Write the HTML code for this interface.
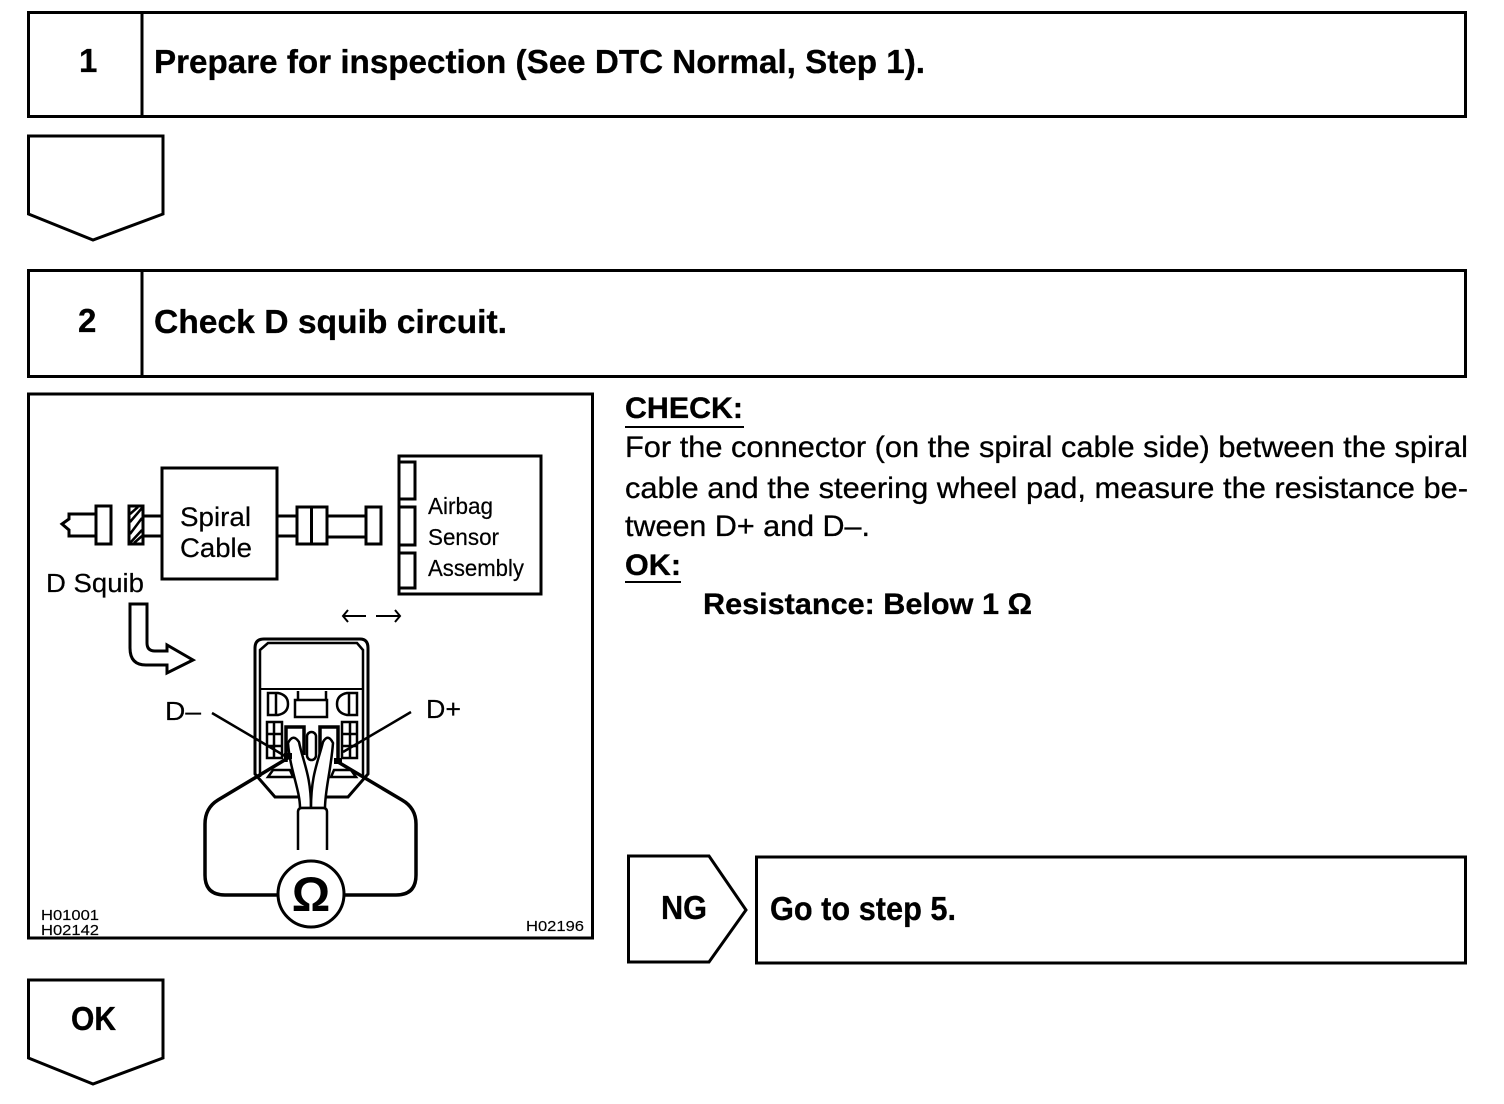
<!DOCTYPE html>
<html><head><meta charset="utf-8"><style>
html,body{margin:0;padding:0;background:#fff}
svg{display:block}
text{font-family:"Liberation Sans",sans-serif;fill:#000}
.b{font-weight:bold;font-size:33px;stroke:#000;stroke-width:.3px}
.t{font-size:29.5px;stroke:#000;stroke-width:.3px}
.d{font-size:27px;stroke:#000;stroke-width:.2px}
.a{font-size:23px;stroke:#000;stroke-width:.2px}
.s{font-size:15px;stroke:#000;stroke-width:.15px}
</style></head><body>
<svg width="1504" height="1104" viewBox="0 0 1504 1104" xmlns="http://www.w3.org/2000/svg">
<g fill="none" stroke="#000" stroke-width="3">
<rect x="28.500" y="12.500" width="1437" height="104"/>
<path d="M142 12V116"/>
<rect x="28.500" y="270.500" width="1437" height="106"/>
<path d="M142 270V376"/>
<path d="M28.500 136H163V214L93 240L28.500 214Z"/>
<rect x="28.500" y="394" width="564" height="544"/>
<path d="M628.500 856H709L746 910L709 962H628.500Z"/>
<rect x="756.500" y="857" width="709" height="106"/>
<path d="M28.500 980H163V1058L93 1084L28.500 1058Z"/>
</g>
<text class="b" x="79" y="72">1</text>
<text class="b" x="154" y="73" textLength="771" lengthAdjust="spacingAndGlyphs">Prepare for inspection (See DTC Normal, Step 1).</text>
<text class="b" x="78" y="332">2</text>
<text class="b" x="154" y="333" textLength="353" lengthAdjust="spacingAndGlyphs">Check D squib circuit.</text>
<text class="b" x="661" y="919" textLength="46" lengthAdjust="spacingAndGlyphs">NG</text>
<text class="b" x="770" y="920" textLength="186" lengthAdjust="spacingAndGlyphs">Go to step 5.</text>
<text class="b" x="71" y="1030" textLength="45" lengthAdjust="spacingAndGlyphs">OK</text>

<text class="b" x="625" y="418" style="font-size:29.500px" textLength="118" lengthAdjust="spacingAndGlyphs">CHECK:</text>
<path d="M625 427H744M625 582H681" stroke="#000" stroke-width="2"/>
<text class="t" x="625" y="457" textLength="843" lengthAdjust="spacingAndGlyphs">For the connector (on the spiral cable side) between the spiral</text>
<text class="t" x="625" y="498" textLength="843" lengthAdjust="spacingAndGlyphs">cable and the steering wheel pad, measure the resistance be-</text>
<text class="t" x="625" y="536" textLength="245" lengthAdjust="spacingAndGlyphs">tween D+ and D&#8211;.</text>
<text class="b" x="625" y="575" style="font-size:29.500px" textLength="56" lengthAdjust="spacingAndGlyphs">OK:</text>
<text class="b" x="703" y="614" style="font-size:29.500px" textLength="329" lengthAdjust="spacingAndGlyphs">Resistance: Below 1 &#937;</text>

<g fill="none" stroke="#000" stroke-width="3">
<!-- squib -->
<path d="M96 514H69V519L62 524L69 530V536H96"/>
<rect x="96" y="506" width="15" height="38"/>
<rect x="129" y="506" width="14" height="38"/>
<path d="M130 522L142 508M130 534L142 518M130 543L142 530M130 514L138 507M134 543L142 536" stroke-width="2.500"/>
<path d="M143 516H162M143 536H162"/>
<rect x="162" y="468" width="115" height="111"/>
<path d="M278 516H297M278 536H297"/>
<rect x="297" y="507" width="30" height="37"/>
<path d="M311.500 507V544"/>
<path d="M327 516H366M327 537H366"/>
<rect x="366" y="507" width="15" height="37"/>
<rect x="399" y="456" width="142" height="138"/>
<path d="M399 462H415V499H399M399 507H415V545H399M399 553H415V588H399"/>
<!-- small arrows -->
<path d="M343 616H366M348 610L343 616L348 622M376 616H400M395 610L400 616L395 622" stroke-width="2"/>
<!-- big bent arrow -->
<path d="M130 604V648Q130 665 146 665H167V673L193 660L167 645V651H155Q147 651 147 643V604Z"/>
<!-- connector -->
<path d="M255 648Q255 639 264 639H360Q368 639 368 648V774L348 797H275L255 774Z"/>
<path d="M260 777V650L268 643H357L363 650V777" stroke-width="2.500"/>
<path d="M260 689H363" stroke-width="2"/>
<path d="M268 693H278Q288 695 288 704Q288 713 278 715H268ZM276 693V715M357 693H347Q337 695 337 704Q337 713 347 715H357ZM349 693V715" stroke-width="2.500"/>
<path d="M298 691V700H326V691M295 700H327V717H295Z" stroke-width="2.500"/>
<path d="M267 722H282V758H267ZM274 722V758M267 734H282M267 746H282" stroke-width="2.500"/>
<path d="M342 722H357V758H342ZM350 722V758M342 734H357M342 746H357" stroke-width="2.500"/>
<path d="M286 762V727H304V755M338 762V727H320V755" stroke-width="3.500"/>
<rect x="307" y="732" width="9" height="28" rx="4.500" stroke-width="2.500"/>
<path d="M268 777L273 770H290L293 777ZM356 777L351 770H334L331 777Z" stroke-width="2.500"/>
<!-- probes -->
<path fill="#fff" d="M288 743Q293 733 299 742C303 762 311 775 311 808H300C300 790 290 770 288 743Z" stroke-width="2.500"/>
<path fill="#fff" d="M333 743Q328 733 323 742C318 762 311 775 311 808H325C325 790 331 770 333 743Z" stroke-width="2.500"/>
<path fill="#fff" d="M298 850V812Q298 808 302 808H323Q327 808 327 812V850" stroke-width="2.500"/>
<!-- leads -->
<path d="M288 758L218 800Q205 808 205 824V875Q205 895 225 895H278M338 762L402 800Q416 808 416 824V875Q416 895 396 895H345" stroke-width="3.500"/>
<path d="M284 756H292M334 761H342" stroke-width="6"/>
<circle cx="311" cy="894" r="33" fill="#fff" stroke-width="3"/>
<!-- label lines -->
<path d="M212 713L285 756M411 712L343 752" stroke-width="2.500"/>
</g>
<text class="d" x="180" y="526" textLength="71" lengthAdjust="spacingAndGlyphs">Spiral</text>
<text class="d" x="180" y="557" textLength="72" lengthAdjust="spacingAndGlyphs">Cable</text>
<text class="a" x="428" y="514" textLength="65" lengthAdjust="spacingAndGlyphs">Airbag</text>
<text class="a" x="428" y="545" textLength="71" lengthAdjust="spacingAndGlyphs">Sensor</text>
<text class="a" x="428" y="576" textLength="96" lengthAdjust="spacingAndGlyphs">Assembly</text>
<text class="d" x="46" y="592" style="font-size:25.500px" textLength="98" lengthAdjust="spacingAndGlyphs">D Squib</text>
<text class="d" x="165" y="720" style="font-size:25.500px" textLength="36" lengthAdjust="spacingAndGlyphs">D&#8211;</text>
<text class="d" x="426" y="718" style="font-size:25.500px" textLength="35" lengthAdjust="spacingAndGlyphs">D+</text>
<text x="311" y="911" text-anchor="middle" font-weight="bold" style="font-size:48px">&#937;</text>
<text class="s" x="41" y="920" textLength="58" lengthAdjust="spacingAndGlyphs">H01001</text>
<text class="s" x="41" y="935" textLength="58" lengthAdjust="spacingAndGlyphs">H02142</text>
<text class="s" x="526" y="931" textLength="58" lengthAdjust="spacingAndGlyphs">H02196</text>
</svg>
</body></html>
